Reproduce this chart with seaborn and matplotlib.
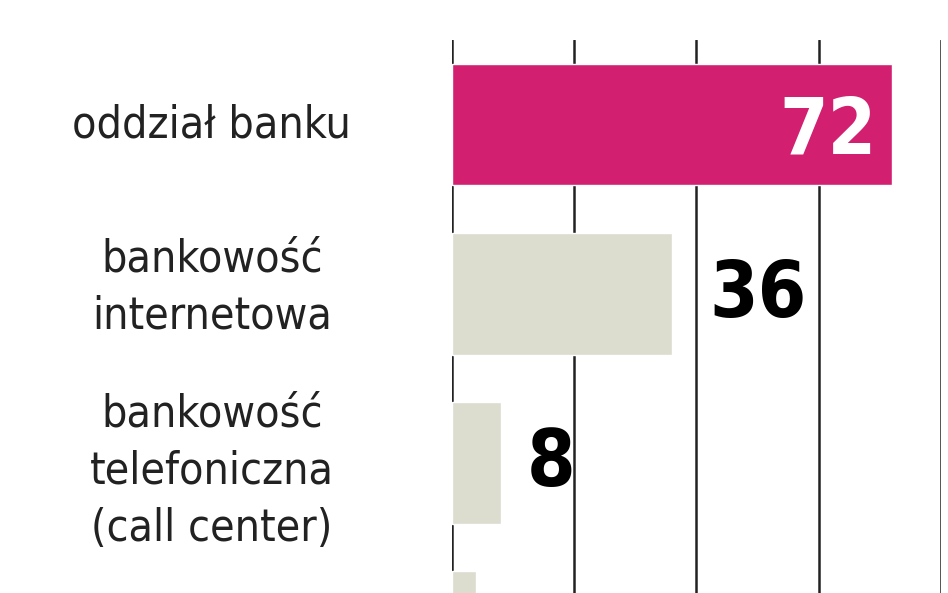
import pandas as pd
import matplotlib.pyplot as plt
import seaborn as sns


kanaly = ['oddział banku', 'bankowość\ninternetowa', 'bankowość\ntelefoniczna\n(call center)', 'bankomat']
wartosci = [72, 36, 8, 4]
kolory = ['#D21F70', '#DCDCCF', '#DCDCCF', '#DCDCCF']

# drobne przesuniecia podpisow w pionie (jak w oryginale)
przesuniecia = [0.0, -0.035, 0.048, 0.0]

df = pd.DataFrame({'kanal': kanaly, 'wartosc': wartosci})

sns.set_style('white')
plt.rcParams['font.family'] = ['DejaVu Sans']
plt.rcParams['font.stretch'] = 'condensed'

fig = plt.figure(figsize=(9.48, 5.93), dpi=100)
ax = fig.add_axes([0.4768, -0.2083, 0.5158, 1.1408])

sns.barplot(data=df, x='wartosc', y='kanal', hue='kanal', palette=kolory,
            width=0.72, legend=False, ax=ax, zorder=3, saturation=1)

ax.set_xlim(0, 80)
ax.set_ylim(3.5, -0.5)
ax.set_xticks([0, 20, 40, 60, 80])
ax.xaxis.grid(True, color='#222222', linewidth=1.8, zorder=0)
ax.set_xticklabels([])
ax.set_yticks([])
ax.set_xlabel('')
ax.set_ylabel('')
for s in ax.spines.values():
    s.set_visible(False)

for i, (k, v) in enumerate(zip(kanaly, wartosci)):
    ax.text(-39.3, i + przesuniecia[i], k, ha='center', va='center', fontsize=32,
            linespacing=1.42, color='#222222', clip_on=False,
            fontstretch='condensed')
    if i == 3:
        continue
    if v > 50:
        ax.text(v - 2.5, i + 0.04, str(v), ha='right', va='center', fontsize=56,
                fontweight='bold', color='white', zorder=5, fontstretch='condensed')
    else:
        ax.text(v + 4.2 + 1.9 * (len(str(v)) - 1), i + 0.005, str(v), ha='left',
                va='center', fontsize=56, fontweight='bold', color='black',
                zorder=5, fontstretch='condensed')

fig.savefig('out.png', dpi=100)
